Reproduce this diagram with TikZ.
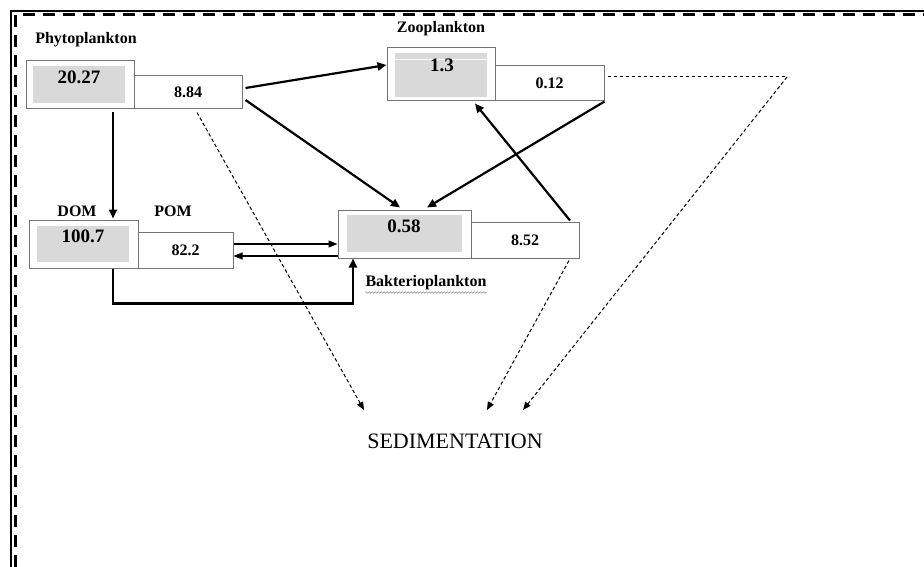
\documentclass[tikz,border=0pt]{standalone}
\usepackage{fontspec}
\setmainfont{Liberation Serif}
\usetikzlibrary{arrows.meta,decorations.pathmorphing}

\tikzset{
	bigbox/.style={draw=black!55, line width=1pt, fill=white, inner sep=0pt},
	greybox/.style={fill=black!15, inner sep=0pt},
	smallbox/.style={draw=black!55, line width=1pt, fill=white, inner sep=0pt, font=\bfseries\fontsize{16}{18}\selectfont},
	bignum/.style={inner sep=0pt, font=\bfseries\fontsize{19}{21}\selectfont},
	title/.style={inner sep=0pt, font=\bfseries\fontsize{16}{18}\selectfont},
	flow/.style={line width=2.2pt, -{Triangle[length=9pt,width=8pt]}},
	thinflow/.style={line width=1.1pt, -{Triangle[length=9pt,width=7pt]}},
	sedflow/.style={line width=1pt, dash pattern=on 3.5pt off 2.5pt, -{Triangle[length=8pt,width=6.5pt]}},
	sedline/.style={line width=1pt, dash pattern=on 3.5pt off 2.5pt}
}

\begin{document}
\begin{tikzpicture}[x=1pt, y=-1pt]
	\useasboundingbox[fill=white] (0,0) rectangle (924,567);
	% frame
	\draw[line width=2.2pt] (11,567) -- (11,11) -- (924,11);
	\draw[line width=3pt, dash pattern=on 12pt off 8pt] (15,567) -- (15,15) -- (924,15);

	% Phytoplankton
	\node[title] (phytoT) at (86,40) {Phytoplankton};
	\node[bigbox, minimum width=108pt, minimum height=48pt] (phyto) at (80,85) {};
	\node[greybox, minimum width=92pt, minimum height=37pt] (phytoG) at (79,84.5) {};
	\node[bignum] (phytoV) at (79,77) {20.27};
	\node[smallbox, minimum width=108pt, minimum height=33pt] (phytoS) at (188,92.5) {8.84};

	% Zooplankton
	\node[title] (zooT) at (441,29) {Zooplankton};
	\node[bigbox, minimum width=108pt, minimum height=53pt] (zoo) at (441,74.5) {};
	\node[greybox, minimum width=92pt, minimum height=44pt] (zooG) at (441,75) {};
	\draw[white, line width=1pt] (zooG.west |- 0,60) -- (zooG.east |- 0,60);
	\node[bignum] (zooV) at (442,65) {1.3};
	\node[smallbox, minimum width=109pt, minimum height=35pt] (zooS) at (549.5,83.5) {0.12};

	% DOM / POM
	\node[title] (domT) at (77,211) {DOM};
	\node[title] (pomT) at (173,211) {POM};
	\node[bigbox, minimum width=109pt, minimum height=48pt] (dom) at (83.5,244) {};
	\node[greybox, minimum width=92pt, minimum height=36pt] (domG) at (83,244) {};
	\node[bignum] (domV) at (83,236.5) {100.7};
	\node[smallbox, minimum width=95pt, minimum height=36pt] (domS) at (185.5,250) {82.2};

	% Bakterioplankton
	\node[bigbox, minimum width=133pt, minimum height=48pt] (bak) at (404.5,234) {};
	\node[greybox, minimum width=115pt, minimum height=37pt] (bakG) at (404.5,233.5) {};
	\node[bignum] (bakV) at (404,226) {0.58};
	\node[smallbox, minimum width=108pt, minimum height=36pt] (bakS) at (525,240) {8.52};
	\node[title] (bakT) at (426,283) {Bakterioplankton};
	\draw[black!45, line width=0.5pt, decorate, decoration={snake, amplitude=0.8pt, segment length=3pt}]
		([yshift=-2pt]bakT.south west) -- ([yshift=-2pt]bakT.south east);

	% sedimentation
	\node[inner sep=0pt, font=\fontsize{22}{24}\selectfont] (sed) at (455,441) {SEDIMENTATION};
	\coordinate (sedA) at (364,410);
	\coordinate (sedB) at (487,410);
	\coordinate (sedC) at (523,410);
	\coordinate (corner) at (787,77);

	% flows
	\draw[flow] ([xshift=3pt, yshift=4.5pt]phytoS.east) -- ([yshift=9.5pt]zoo.west);
	\draw[flow] ([xshift=3pt, yshift=-7.5pt]phytoS.east) -- ([xshift=-4.5pt, yshift=2pt]bak.north);
	\draw[flow] (zooS.south east) -- ([xshift=22.5pt, yshift=2pt]bak.north);
	\draw[flow] ([xshift=45pt, yshift=1pt]bakS.north) -- ([xshift=34pt, yshift=-2pt]zoo.south);
	\draw[flow] ([xshift=33pt, yshift=-3pt]phyto.south) -- ([xshift=29.5pt, yshift=1pt]dom.north);
	\draw[flow] ([xshift=29.5pt]dom.south) -- ++(0,35) -| ([xshift=-51.5pt]bak.south);
	\draw[thinflow] ([yshift=6pt]domS.east) -- ([yshift=-10pt]bak.west);
	\draw[thinflow] ([yshift=-22pt]bak.west) -- ([yshift=-6pt]domS.east);

	% sedimentation flows
	\draw[sedflow] ([xshift=9pt, yshift=-3pt]phytoS.south) -- (sedA);
	\draw[sedflow] ([xshift=44pt, yshift=-2pt]bakS.south) -- (sedB);
	\draw[sedline] ([xshift=3pt, yshift=6.5pt]zooS.east) -- (corner);
	\draw[sedflow] (corner) -- (sedC);
\end{tikzpicture}
\end{document}
